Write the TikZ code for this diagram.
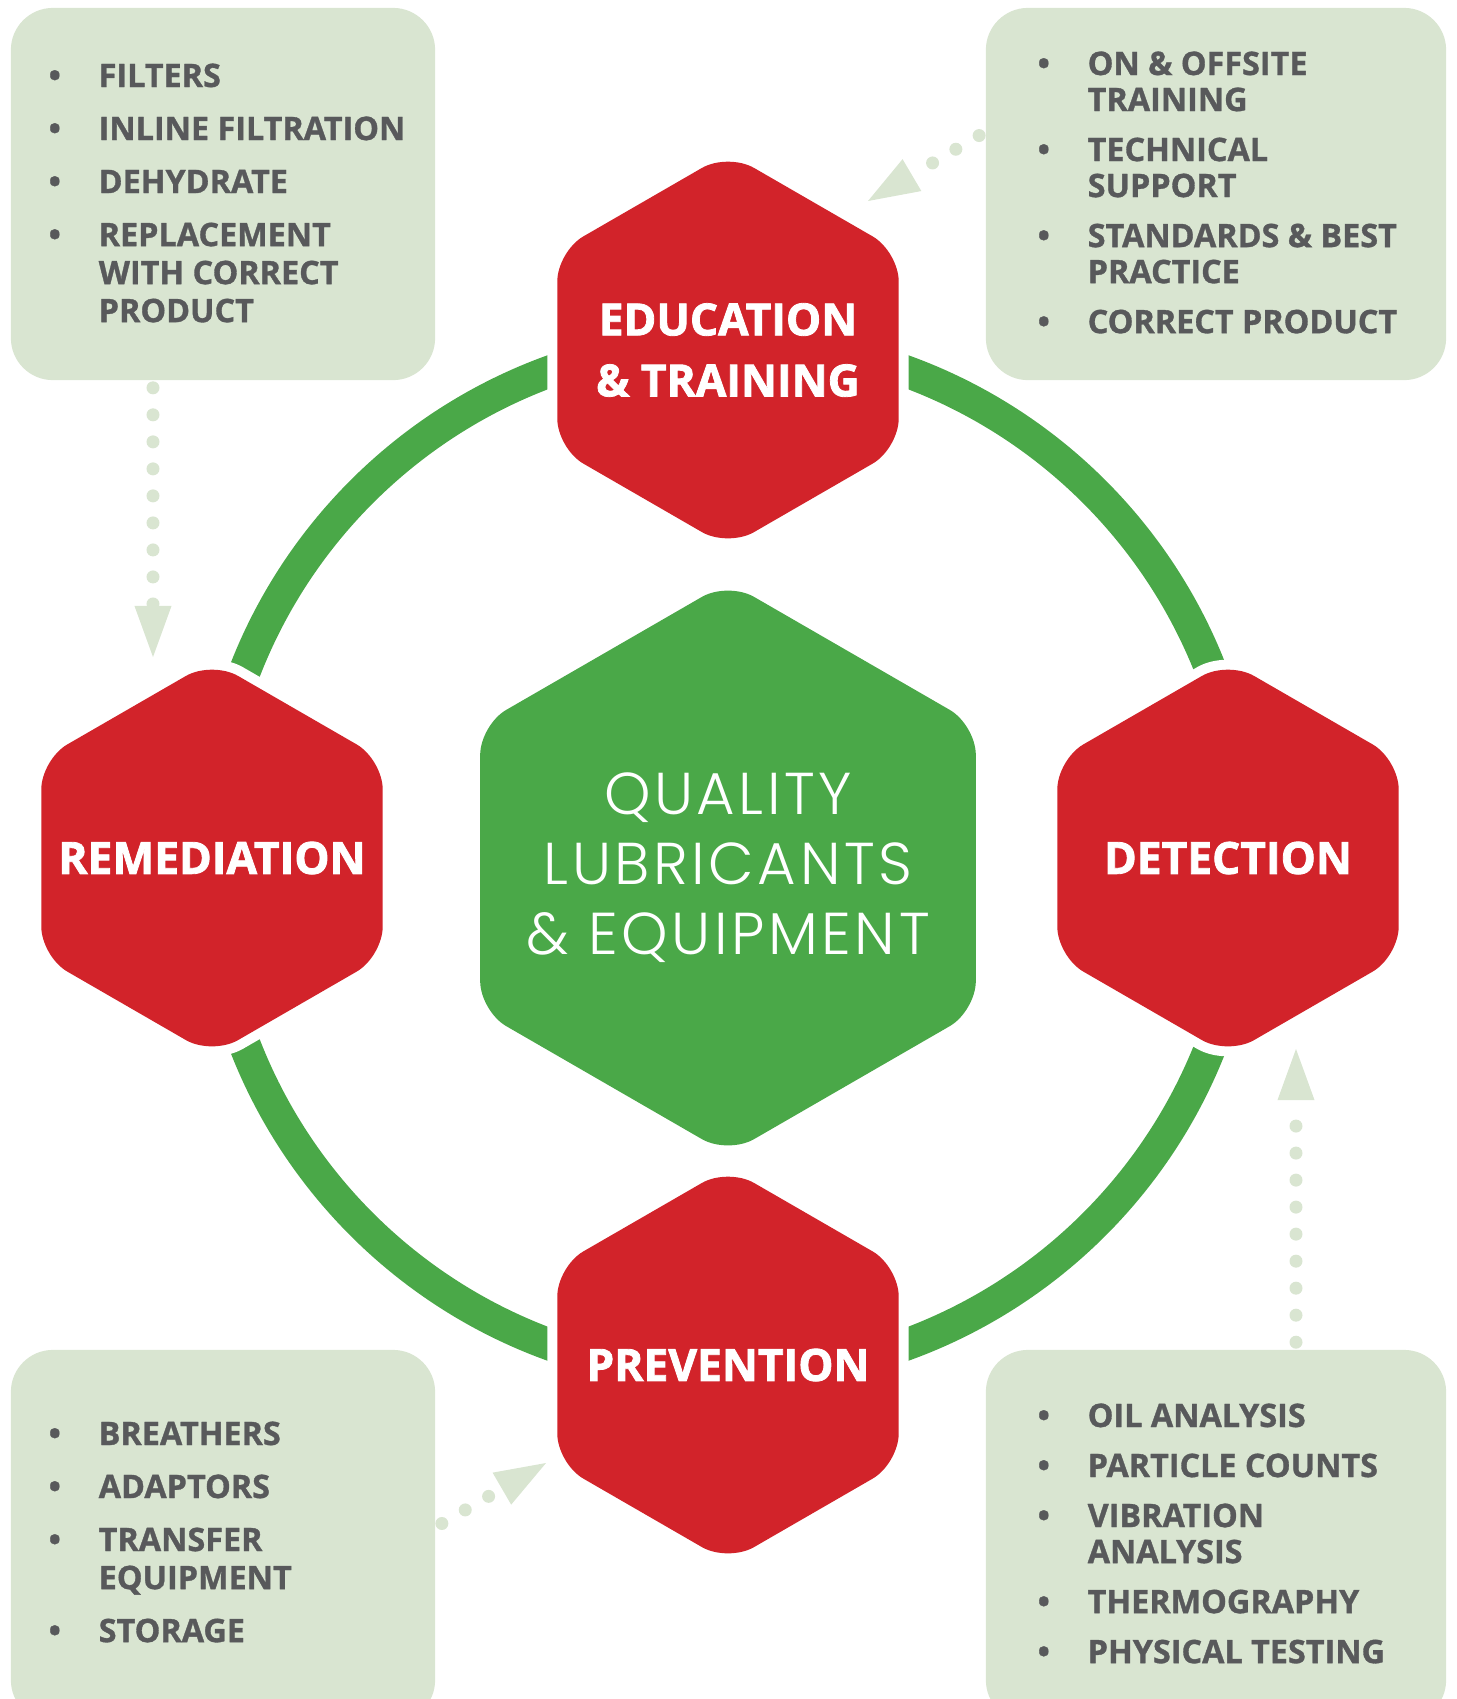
\documentclass[tikz,border=0pt]{standalone}
\usepackage{fontspec}
\setmainfont{Open Sans}[BoldFeatures={FakeBold=1}]
\newfontfamily\heavyfont{Open Sans}[BoldFeatures={FakeBold=1.8}]
\newfontfamily\thinfont{Poppins Light}[LetterSpace=6]
\usepackage{tikz}
\usetikzlibrary{shapes.geometric,arrows.meta,positioning}
\definecolor{hexred}{HTML}{D2232A}
\definecolor{hexgreen}{HTML}{4AA848}
\definecolor{notegreen}{HTML}{D9E5D1}
\definecolor{notegray}{HTML}{58595B}
\newcommand{\bul}{\hspace{0.04cm}\textbullet}

\begin{document}
\begin{tikzpicture}[x=0.01cm,y=-0.01cm]
\tikzstyle{stage}=[regular polygon, regular polygon sides=6, shape border rotate=30, minimum size=3.94cm, inner sep=0pt, rounded corners=0.3cm, fill=hexred, preaction={draw=white, line width=0.2cm}]
\tikzstyle{stagetext}=[text=white, align=center, font=\heavyfont\bfseries\fontsize{12.6pt}{0.61cm}\selectfont]
\tikzstyle{core}=[regular polygon, regular polygon sides=6, shape border rotate=30, minimum size=5.72cm, inner sep=0pt, rounded corners=0.3cm, fill=hexgreen]
\tikzstyle{coretext}=[text=white, align=center, font=\thinfont\fontsize{16.8pt}{0.70cm}\selectfont]
\tikzstyle{note}=[rectangle, rounded corners=0.42cm, fill=notegreen, minimum height=3.72cm, inner sep=0pt]
\tikzstyle{list}=[inner sep=0pt, anchor=base west, text=notegray, font=\bfseries\fontsize{9.2pt}{0.38cm}\selectfont]
\tikzstyle{rlist}=[list, font=\bfseries\fontsize{9.2pt}{0.36cm}\selectfont]
\tikzstyle{ring}=[line width=0.32cm, draw=hexgreen]
\tikzstyle{feed}=[line width=0.13cm, draw=notegreen, line cap=round, dash pattern=on 0pt off 0.27cm, dash phase=0.2cm, -{Triangle[length=0.51cm, width=0.37cm, line width=0pt]}]
\useasboundingbox (0,0) rectangle (1457,1699);
\clip (0,0) rectangle (1457,1699);

% boxes with the actions
\node[note, minimum width=4.24cm] (n_rem) at (223,194) {};
\node[note, minimum width=4.60cm] (n_edu) at (1216,194) {};
\node[note, minimum width=4.24cm] (n_prev) at (223,1536) {};
\node[note, minimum width=4.60cm] (n_det) at (1216,1536) {};

\node[list] (l_rem) at (44,87) {\begin{tabular}[t]{@{}p{0.54cm}@{}l@{}}
\bul & FILTERS\\[0.15cm]
\bul & INLINE FILTRATION\\[0.15cm]
\bul & DEHYDRATE\\[0.15cm]
\bul & REPLACEMENT\\
 & WITH CORRECT\\
 & PRODUCT
\end{tabular}};
\node[rlist] (l_edu) at (1033,75) {\begin{tabular}[t]{@{}p{0.54cm}@{}l@{}}
\bul & ON \& OFFSITE\\
 & TRAINING\\[0.14cm]
\bul & TECHNICAL\\
 & SUPPORT\\[0.14cm]
\bul & STANDARDS \& BEST\\
 & PRACTICE\\[0.14cm]
\bul & CORRECT PRODUCT
\end{tabular}};
\node[rlist] (l_det) at (1033,1427) {\begin{tabular}[t]{@{}p{0.54cm}@{}l@{}}
\bul & OIL ANALYSIS\\[0.14cm]
\bul & PARTICLE COUNTS\\[0.14cm]
\bul & VIBRATION\\
 & ANALYSIS\\[0.14cm]
\bul & THERMOGRAPHY\\[0.14cm]
\bul & PHYSICAL TESTING
\end{tabular}};
\node[list] (l_prev) at (44,1445) {\begin{tabular}[t]{@{}p{0.54cm}@{}l@{}}
\bul & BREATHERS\\[0.15cm]
\bul & ADAPTORS\\[0.15cm]
\bul & TRANSFER\\
 & EQUIPMENT\\[0.15cm]
\bul & STORAGE
\end{tabular}};

% cycle
\coordinate (hub) at (728,858);
\draw[ring] (hub) circle[radius=518];
\node[core] (core) at (728,868) [label={[coretext]center:{QUALITY\\LUBRICANTS\\\& EQUIPMENT}}]{};
\node[stage] (edu) at (728,350) [label={[stagetext]center:{EDUCATION\\\& TRAINING}}]{};
\node[stage] (det) at (1228,858) [label={[stagetext]center:DETECTION}]{};
\node[stage] (prev) at (728,1365) [label={[stagetext]center:PREVENTION}]{};
\node[stage] (rem) at (212,858) [label={[stagetext]center:REMEDIATION}]{};

% dotted feeds
\coordinate (in_rem) at (153,657);
\coordinate (in_edu) at (868,201);
\coordinate (in_det) at (1296,1049);
\coordinate (in_prev) at (546,1463);
\draw[feed] (n_rem.south -| in_rem) -- (in_rem);
\draw[feed] ([yshift=0.62cm]n_edu.west) -- (in_edu);
\draw[feed] (n_det.north -| in_det) -- (in_det);
\draw[feed] ([yshift=0.09cm]n_prev.east) -- (in_prev);
\end{tikzpicture}
\end{document}
